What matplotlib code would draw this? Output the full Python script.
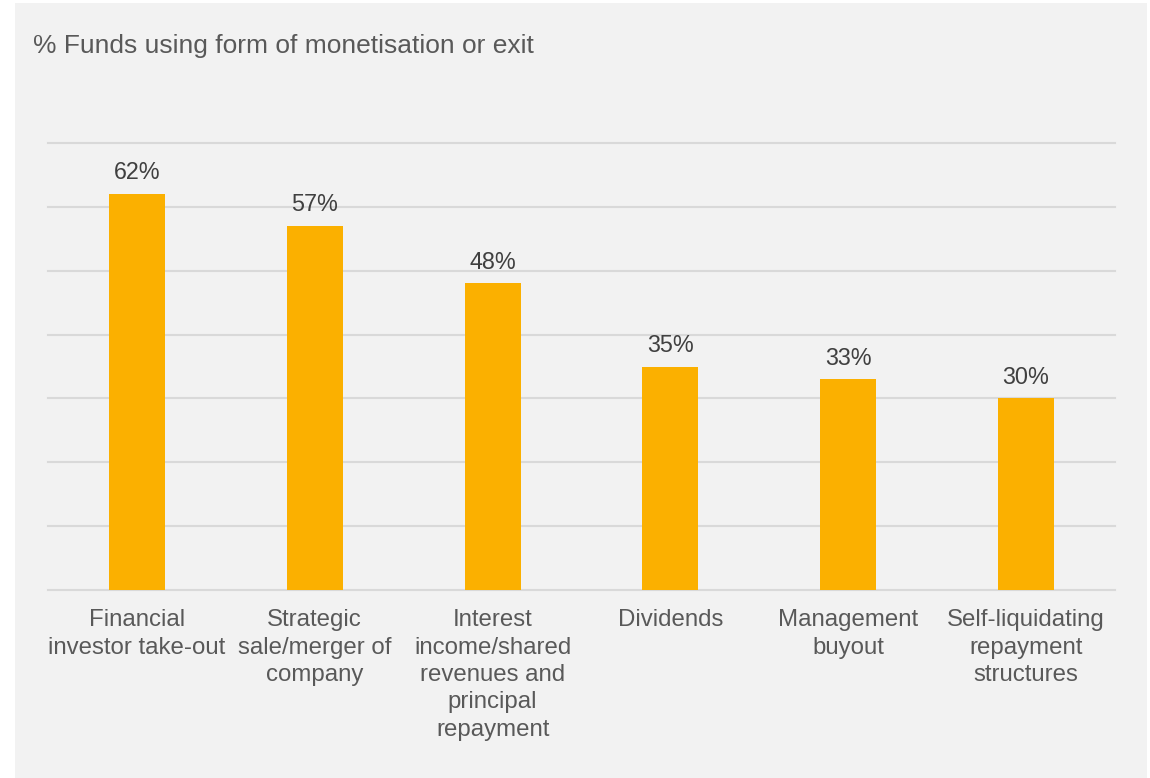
import matplotlib
matplotlib.use("Agg")
import matplotlib.pyplot as plt
from matplotlib.patches import Rectangle

categories = ["Financial\ninvestor take-out", "Strategic\nsale/merger of\ncompany",
              "Interest\nincome/shared\nrevenues and\nprincipal\nrepayment",
              "Dividends", "Management\nbuyout", "Self-liquidating\nrepayment\nstructures"]
values = [62, 57, 48, 35, 33, 30]
title = "% Funds using form of monetisation or exit"

plt.rcParams['font.family'] = ['Liberation Sans', 'DejaVu Sans']
W, H = 1150, 778
fig = plt.figure(figsize=(W/100, H/100), dpi=100)
fig.patch.set_facecolor('white')
bg = '#f2f2f2'
fig.patches.append(Rectangle((15/W, 0), (1147-15)/W, (778-3)/H, transform=fig.transFigure,
                             facecolor=bg, edgecolor='none', zorder=-10))

ax = fig.add_axes([48/W, (H-590)/H, (1115-48)/W, (590-143)/H])
ax.set_facecolor('none')
x = list(range(len(categories)))
bars = ax.bar(x, values, width=0.315, color='#fbb000', zorder=3)
ax.set_xlim(-0.5, 5.5)
ax.set_ylim(0, 70)
ax.set_yticks(range(0, 71, 10))
ax.yaxis.grid(True, color='#d9d9d9', linewidth=1.5, zorder=0)
for gl in ax.get_ygridlines():
    gl.set_clip_on(False)
ax.tick_params(axis='y', left=False, labelleft=False)
ax.tick_params(axis='x', bottom=False, pad=10.5)
ax.set_xticks(x)
ax.set_xticklabels(categories, fontsize=17.3, color='#595959', linespacing=1.31)
for s in ax.spines.values():
    s.set_visible(False)
for xi, v in zip(x, values):
    ax.annotate(f"{v}%", (xi, v), xytext=(0, 7), textcoords='offset points',
                ha='center', va='bottom', fontsize=16.8, color='#404040')

fig.text(33/W, 1 - 46/H, title, fontsize=19, color='#595959', va='center', ha='left')
fig.savefig('out.png', dpi=100, facecolor='white')
